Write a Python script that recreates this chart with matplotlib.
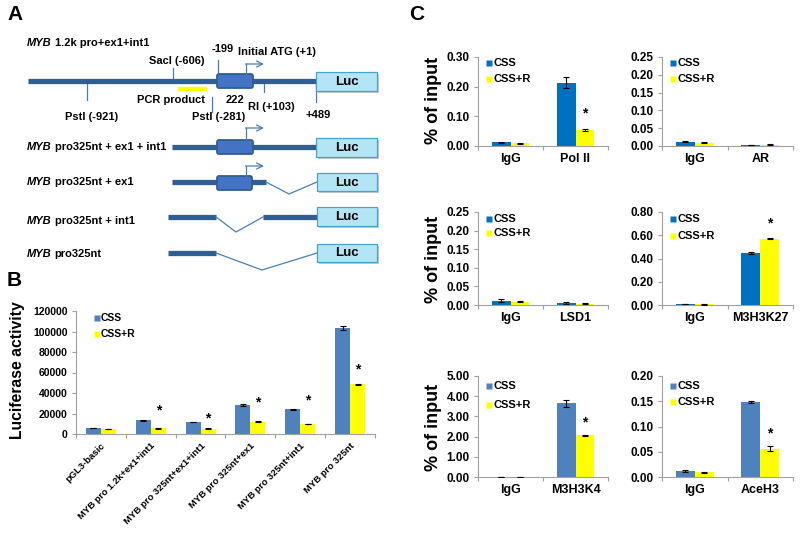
import matplotlib
matplotlib.use('Agg')
import matplotlib.pyplot as plt
from matplotlib.patches import FancyBboxPatch, Rectangle
import numpy as np

plt.rcParams['font.family'] = ['Liberation Sans', 'DejaVu Sans']
plt.rcParams['font.weight'] = 'bold'

# ---------------- data ----------------
b_categories = ['pGL3-basic', 'MYB pro 1.2k+ex1+int1', 'MYB pro 325nt+ex1+int1',
                'MYB pro 325nt+ex1', 'MYB pro 325nt+int1', 'MYB pro 325nt']
b_css = [5800, 13200, 11800, 28300, 24200, 103500]
b_css_err = [300, 500, 300, 500, 500, 2000]
b_cssr = [5000, 5500, 5200, 12000, 9800, 48500]
b_cssr_err = [300, 300, 800, 600, 400, 500]
b_star_y = [None, 23400, 15300, 30500, 33200, 63400]
b_yticks = [0, 20000, 40000, 60000, 80000, 100000, 120000]

c_targets = ['Pol II', 'AR', 'LSD1', 'M3H3K27', 'M3H3K4', 'AceH3']
c_control = 'IgG'
c_css = [[0.012, 0.213], [0.012, 0.002], [0.012, 0.006], [0.008, 0.447], [0.01, 3.65], [0.012, 0.148]]
c_css_err = [[0.002, 0.018], [0.002, 0.0005], [0.003, 0.003], [0.002, 0.010], [0.005, 0.17], [0.002, 0.002]]
c_cssr = [[0.009, 0.055], [0.009, 0.004], [0.009, 0.004], [0.005, 0.572], [0.01, 2.07], [0.009, 0.056]]
c_cssr_err = [[0.002, 0.003], [0.001, 0.001], [0.002, 0.002], [0.001, 0.005], [0.005, 0.03], [0.001, 0.005]]
c_ymax = [0.30, 0.25, 0.25, 0.80, 5.00, 0.20]
c_ystep = [0.10, 0.05, 0.05, 0.20, 1.00, 0.05]
c_star_y = [0.111, None, None, 0.705, 2.72, 0.087]

series_names = ['CSS', 'CSS+R']

# ---------------- style ----------------
W, H = 800, 535
fig = plt.figure(figsize=(8, 5.35), dpi=100)
YELLOW = '#FFFF00'
BLUE_B = '#4F81BD'
BLUE_C = ['#0070C0', '#0070C0', '#0070C0', '#0070C0', '#4F81BD', '#4F81BD']
GRAY = '#A0A0A0'
DARK = '#2E5E92'
THIN = '#4A7EBB'

ax0 = fig.add_axes([0, 0, 1, 1])
ax0.set_xlim(0, W)
ax0.set_ylim(H, 0)
ax0.axis('off')
ax0.set_zorder(-1)

def fax(x0, x1, y0, y1):
    a = fig.add_axes([x0 / W, 1 - y1 / H, (x1 - x0) / W, (y1 - y0) / H])
    a.patch.set_alpha(0)
    return a

# ---------------- panel A diagram ----------------
renderer = fig.canvas.get_renderer()

def row_label(x, y, rest):
    t = ax0.text(x, y, 'MYB', style='italic', weight='bold', fontsize=8, va='center', ha='left')
    bb = t.get_window_extent(renderer=renderer)
    ax0.text(x + bb.width + 3, y, rest, weight='bold', fontsize=8, va='center', ha='left')

def thick(x0, x1, y):
    ax0.plot([x0, x1], [y, y], color=DARK, lw=3.8, solid_capstyle='butt')

def thin(xs, ys):
    ax0.plot(xs, ys, color=THIN, lw=0.9)

def exon(x0, x1, yc):
    ax0.add_patch(FancyBboxPatch((x0, yc - 7), x1 - x0, 14,
                                 boxstyle='round,pad=0,rounding_size=2',
                                 fc='#4472C4', ec=DARK, lw=1.3, zorder=3))

def tss(x, ybot, ytop):
    ax0.plot([x, x], [ybot, ytop], color=THIN, lw=0.9, zorder=4)
    ax0.annotate('', xy=(x + 18, ytop), xytext=(x - 0.4, ytop),
                 arrowprops=dict(arrowstyle='->', color=THIN, lw=0.9, mutation_scale=11,
                                 shrinkA=0, shrinkB=0), zorder=4)

def luc(x0, x1, y0, y1):
    ax0.add_patch(Rectangle((x0 + 2, y0 + 2), x1 - x0, y1 - y0, fc='#C8C8C8', ec='none', zorder=2))
    ax0.add_patch(Rectangle((x0, y0), x1 - x0, y1 - y0, fc='#B4E5F5', ec='#45A5C8', lw=0.9, zorder=3))
    ax0.text((x0 + x1) / 2, (y0 + y1) / 2 + 0.5, 'Luc', fontsize=9.5, weight='bold', ha='center', va='center', zorder=4)

def small(x, y, s):
    ax0.text(x, y, s, fontsize=8, weight='bold', ha='center', va='center')

ax0.text(15, 15, 'A', fontsize=15, weight='bold', ha='center', va='center')
ax0.text(14, 281, 'B', fontsize=15, weight='bold', ha='center', va='center')
ax0.text(417, 15, 'C', fontsize=15, weight='bold', ha='center', va='center')

# row 1
row_label(27, 43, '1.2k pro+ex1+int1')
ax0.plot([173, 173], [81, 68], color=THIN, lw=0.9)
ax0.plot([218, 218], [60, 74], color=THIN, lw=0.9)
ax0.plot([87, 87], [81, 100], color=THIN, lw=0.9)
ax0.plot([212, 212], [97, 112], color=THIN, lw=0.9)
ax0.plot([264, 264], [81, 92], color=THIN, lw=0.9)
ax0.plot([316, 316], [81, 102], color=THIN, lw=0.9)
thick(28, 317, 81)
exon(217, 253, 81)
tss(246, 74, 64)
luc(316, 377, 72, 91)
ax0.plot([178, 207], [89, 89], color=YELLOW, lw=3.2, solid_capstyle='butt')
small(177, 61, 'SacI (-606)')
small(223, 49, '-199')
small(277, 52, 'Initial ATG (+1)')
small(92, 117, 'PstI (-921)')
small(171, 100, 'PCR product')
small(219, 117, 'PstI (-281)')
small(235, 100, '222')
small(271, 107, 'RI (+103)')
small(318, 115, '+489')

# row 2
row_label(27, 147, 'pro325nt + ex1 + int1')
thick(172, 317, 147)
exon(217, 253, 147)
tss(246, 140, 128)
luc(316, 377, 138, 157)

# row 3
row_label(27, 182, 'pro325nt + ex1')
thick(172, 266, 182)
exon(217, 252, 183)
tss(246, 176, 166)
thin([266, 289, 317], [182, 194, 182])
luc(317, 377, 173, 191)

# row 4
row_label(27, 221, 'pro325nt + int1')
thick(168, 216, 217)
thin([216, 236, 263], [217, 232, 217])
thick(263, 317, 217)
luc(317, 377, 207, 226)

# row 5
row_label(27, 254, 'pro325nt')
thick(168, 216, 253)
thin([216, 262, 317], [253, 270, 253])
luc(317, 377, 244, 262)

# ---------------- helpers for bar panels ----------------
def style_axes(ax, n):
    for s in ['top', 'right']:
        ax.spines[s].set_visible(False)
    for s in ['left', 'bottom']:
        ax.spines[s].set_color(GRAY)
        ax.spines[s].set_linewidth(0.8)
    ax.set_xlim(-0.5, n - 0.5)
    ax.set_xticks(np.arange(-0.5, n, 1.0), minor=True)
    ax.tick_params(axis='x', which='major', length=0, pad=5)
    ax.tick_params(axis='x', which='minor', length=3, color=GRAY, width=0.8)
    ax.tick_params(axis='y', length=3, color=GRAY, width=0.8, pad=3)

def legend_px(x, y1, y2, color, fs=7):
    ax0.plot([x], [y1], 's', ms=4.8, color=color, mec='none')
    ax0.plot([x], [y2], 's', ms=4.8, color=YELLOW, mec='none')
    ax0.text(x + 4, y1, series_names[0], fontsize=fs, weight='bold', va='center', ha='left')
    ax0.text(x + 4, y2, series_names[1], fontsize=fs, weight='bold', va='center', ha='left')

# ---------------- panel B ----------------
axB = fax(76, 375, 311, 434)
nb = len(b_categories)
xb = np.arange(nb)
wb = 0.3
axB.bar(xb - wb / 2, b_css, wb, color=BLUE_B, zorder=2)
axB.bar(xb + wb / 2, b_cssr, wb, color=YELLOW, zorder=2)
axB.errorbar(xb - wb / 2, b_css, yerr=b_css_err, fmt='none', ecolor='black', elinewidth=0.8, capsize=2.5, capthick=0.8, zorder=3)
axB.errorbar(xb + wb / 2, b_cssr, yerr=b_cssr_err, fmt='none', ecolor='black', elinewidth=0.8, capsize=2.5, capthick=0.8, zorder=3)
for i, sy in enumerate(b_star_y):
    if sy is not None:
        axB.text(xb[i] + wb / 2, sy, '*', fontsize=10, weight='bold', ha='center', va='center')
style_axes(axB, nb)
axB.set_ylim(0, 120000)
axB.set_yticks(b_yticks)
axB.set_yticklabels([str(v) for v in b_yticks], fontsize=7.5, weight='bold')
axB.set_xticks(xb)
axB.set_xticklabels(b_categories, rotation=45, ha='right', va='top', rotation_mode='anchor', fontsize=6.8, weight='bold')
fig.text(18 / W, 1 - 370 / H, 'Luciferase activity', rotation=90, fontsize=11.3, weight='bold', ha='center', va='center')
legend_px(97, 318, 334, BLUE_B, fs=7.5)

# ---------------- panel C ----------------
boxes = [(478, 608, 57, 146), (662, 793, 57, 146),
         (478, 608, 212, 305), (662, 793, 212, 305),
         (478, 608, 376, 477), (662, 793, 376, 477)]
legend_pos = [(489, 63, 79), (673, 63, 79), (489, 219, 233), (673, 219, 236), (489, 386, 405), (673, 386, 402)]
ylabel_y = [100, 259, 427]
wc = 0.29
for k in range(6):
    x0, x1, y0, y1 = boxes[k]
    ax = fax(x0, x1, y0, y1)
    xc = np.arange(2)
    ax.bar(xc - wc / 2, c_css[k], wc, color=BLUE_C[k], zorder=2)
    ax.bar(xc + wc / 2, c_cssr[k], wc, color=YELLOW, zorder=2)
    ax.errorbar(xc - wc / 2, c_css[k], yerr=c_css_err[k], fmt='none', ecolor='black', elinewidth=0.8, capsize=2.5, capthick=0.8, zorder=3)
    ax.errorbar(xc + wc / 2, c_cssr[k], yerr=c_cssr_err[k], fmt='none', ecolor='black', elinewidth=0.8, capsize=2.5, capthick=0.8, zorder=3)
    if c_star_y[k] is not None:
        ax.text(1 + wc / 2, c_star_y[k], '*', fontsize=10, weight='bold', ha='center', va='center')
    style_axes(ax, 2)
    ax.set_ylim(0, c_ymax[k])
    ticks = np.round(np.arange(0, c_ymax[k] + c_ystep[k] / 2, c_ystep[k]), 2)
    ax.set_yticks(ticks)
    ax.set_yticklabels(['%.2f' % t for t in ticks], fontsize=8.5, weight='bold')
    ax.set_xticks(xc)
    ax.set_xticklabels([c_control, c_targets[k]], fontsize=9, weight='bold')
    lx, ly1, ly2 = legend_pos[k]
    legend_px(lx, ly1, ly2, BLUE_C[k], fs=8)
    if k % 2 == 0:
        fig.text(433 / W, 1 - ylabel_y[k // 2] / H, '% of input', rotation=90, fontsize=13, weight='bold', ha='center', va='center')

fig.savefig('out.png', dpi=100)
